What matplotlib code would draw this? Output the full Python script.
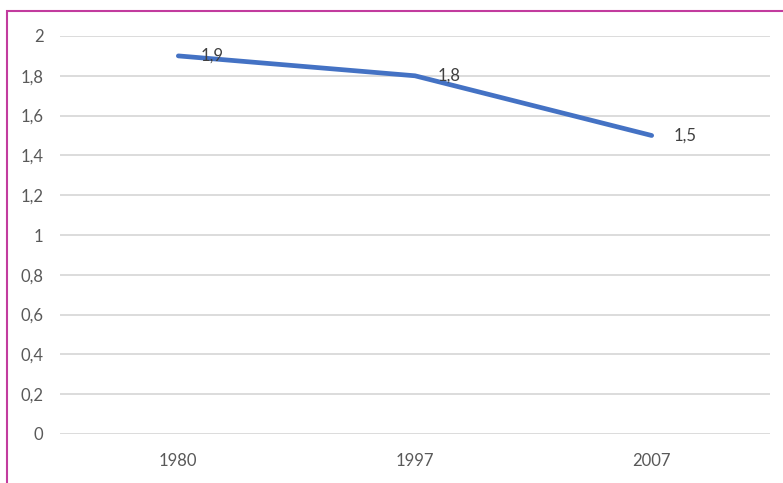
import matplotlib
matplotlib.use("Agg")
import matplotlib.pyplot as plt
from matplotlib.patches import Rectangle

years = ["1980", "1997", "2007"]
values = [1.9, 1.8, 1.5]
value_labels = ["1,9", "1,8", "1,5"]
y_ticks = [0, 0.2, 0.4, 0.6, 0.8, 1, 1.2, 1.4, 1.6, 1.8, 2]
y_tick_labels = ["0", "0,2", "0,4", "0,6", "0,8", "1", "1,2", "1,4", "1,6", "1,8", "2"]

W, H = 783, 483
fig = plt.figure(figsize=(W / 100, H / 100), dpi=100)
plt.rcParams["font.family"] = ["Lato", "DejaVu Sans"]

ax = fig.add_axes([60 / W, (H - 434) / H, (770 - 60) / W, (434 - 36) / H])

x = list(range(len(years)))
ax.plot(x, values, color="#4472C4", linewidth=3.4, solid_capstyle="round", zorder=3)
for xi, v, lab in zip(x, values, value_labels):
    ax.annotate(lab, (xi, v), xytext=(16, 0), textcoords="offset points",
                ha="left", va="center", fontsize=12, color="#404040", zorder=4)

ax.set_xlim(-0.5, len(years) - 0.5)
ax.set_ylim(0, 2)
ax.set_xticks(x)
ax.set_xticklabels(years)
ax.set_yticks(y_ticks)
ax.set_yticklabels(y_tick_labels)
ax.tick_params(axis="both", length=0, labelsize=12, colors="#595959")
ax.tick_params(axis="y", pad=12)
ax.tick_params(axis="x", pad=14)
ax.grid(axis="y", color="#D9D9D9", linewidth=1.3)
ax.set_axisbelow(True)
for s in ax.spines.values():
    s.set_visible(False)

# Outer frame
fig.patches.append(Rectangle((7 / W, -0.05), 1.0, (H - 11) / H + 0.05,
                             transform=fig.transFigure, fill=False,
                             edgecolor="#C23B9E", linewidth=1.5))

fig.savefig("out.png", dpi=100, facecolor="white")
